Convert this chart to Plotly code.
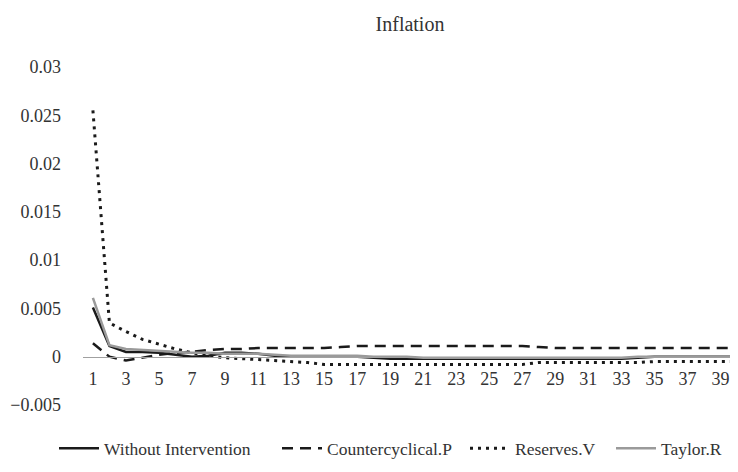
import plotly.graph_objects as go

periods = list(range(1, 41))
tick_vals = list(range(1, 40, 2))
tick_text = [str(v) for v in tick_vals]

without_intervention = [0.0051, 0.0011, 0.0005, 0.0005, 0.0004, 0.0002, 0.0000, 0.0001, 0.0004, 0.0004,
                        0.0003, 0.0001, 0.0000, 0.0000, 0.0000, 0.0000, 0.0000, -0.0001, -0.0002, -0.0002,
                        -0.0002, -0.0002, -0.0002, -0.0002, -0.0002, -0.0002, -0.0002, -0.0002, -0.0002, -0.0002,
                        -0.0002, -0.0002, -0.0002, -0.0001, 0.0000, 0.0000, 0.0000, 0.0000, 0.0000, 0.0000]
countercyclical_p = [0.0014, 0.0000, -0.0004, -0.0001, 0.0002, 0.0004, 0.0005, 0.0007, 0.0008, 0.0008,
                     0.0009, 0.0009, 0.0009, 0.0009, 0.0009, 0.0010, 0.0011, 0.0011, 0.0011, 0.0011,
                     0.0011, 0.0011, 0.0011, 0.0011, 0.0011, 0.0011, 0.0011, 0.0010, 0.0009, 0.0009,
                     0.0009, 0.0009, 0.0009, 0.0009, 0.0009, 0.0009, 0.0009, 0.0009, 0.0009, 0.0009]
reserves_v = [0.0255, 0.0035, 0.0026, 0.0018, 0.0013, 0.0008, 0.0004, 0.0001, -0.0001, -0.0002,
              -0.0003, -0.0004, -0.0005, -0.0006, -0.0008, -0.0008, -0.0008, -0.0008, -0.0008, -0.0008,
              -0.0008, -0.0008, -0.0008, -0.0008, -0.0008, -0.0008, -0.0008, -0.0006, -0.0006, -0.0006,
              -0.0006, -0.0006, -0.0006, -0.0006, -0.0005, -0.0005, -0.0005, -0.0005, -0.0005, -0.0005]
taylor_r = [0.0061, 0.0012, 0.0008, 0.0007, 0.0006, 0.0005, 0.0004, 0.0004, 0.0003, 0.0003,
            0.0003, 0.0002, 0.0001, 0.0001, 0.0001, 0.0001, 0.0001, 0.0000, 0.0000, 0.0000,
            -0.0001, -0.0001, -0.0001, -0.0001, -0.0001, -0.0001, -0.0001, -0.0001, -0.0001, -0.0001,
            -0.0001, -0.0001, -0.0001, 0.0000, 0.0000, 0.0000, 0.0000, 0.0000, 0.0000, 0.0000]

y_tick_vals = [-0.005, 0, 0.005, 0.01, 0.015, 0.02, 0.025, 0.03]
y_tick_text = ["\u22120.005", "0", "0.005", "0.01", "0.015", "0.02", "0.025", "0.03"]

FONT = "Liberation Serif"
TEXT = "#333333"
PLOT_LEFT, PLOT_W = 83, 654
LEG_Y = (405.5 - 449) / 339

def leg_x(px):
    return (px - PLOT_LEFT) / PLOT_W

fig = go.Figure()
fig.add_trace(go.Scatter(x=periods, y=without_intervention, mode="lines", name="Without Intervention",
                         line=dict(color="#1a1a1a", width=2.5), legend="legend"))
fig.add_trace(go.Scatter(x=periods, y=countercyclical_p, mode="lines", name="Countercyclical.P",
                         line=dict(color="#1a1a1a", width=2.5, dash="11px,7px"), legend="legend2"))
fig.add_trace(go.Scatter(x=periods, y=reserves_v, mode="lines", name="Reserves.V",
                         line=dict(color="#1a1a1a", width=3, dash="3px,5px"), legend="legend3"))
fig.add_trace(go.Scatter(x=periods, y=taylor_r, mode="lines", name="Taylor.R",
                         line=dict(color="#9a9a9a", width=2.5), legend="legend4"))

def legend_at(px):
    return dict(orientation="h", x=leg_x(px), xanchor="left", y=LEG_Y, yanchor="middle",
                font=dict(family=FONT, size=17.5, color=TEXT), itemwidth=40,
                bgcolor="rgba(0,0,0,0)")

fig.update_layout(
    width=738, height=472,
    margin=dict(l=75, r=9, t=58.5, b=74.5),
    paper_bgcolor="white", plot_bgcolor="white",
    font=dict(family=FONT, size=18, color=TEXT),
    title=dict(text="Inflation", x=0.5, xref="paper", xanchor="center",
               y=1 - 16 / 472, yref="container", yanchor="middle",
               font=dict(family=FONT, size=20, color=TEXT)),
    showlegend=True,
    legend=legend_at(54),
    legend2=legend_at(277),
    legend3=legend_at(465),
    legend4=legend_at(611),
    xaxis=dict(range=[0.4, 40.0], tickvals=tick_vals, ticktext=tick_text, showgrid=False,
               zeroline=False, anchor="free", position=0.005 / 0.035, automargin=False,
               showline=True, linecolor="#a0a0a0", linewidth=1,
               ticks="outside", ticklen=6, tickcolor="rgba(0,0,0,0)",
               tickfont=dict(family=FONT, size=18, color=TEXT)),
    yaxis=dict(range=[-0.005, 0.03], tickvals=y_tick_vals, ticktext=y_tick_text, showgrid=False,
               zeroline=False, showline=False, ticks="", ticklabelstandoff=21, automargin=False,
               tickfont=dict(family=FONT, size=18, color=TEXT)),
)

fig.write_html("out.html")
